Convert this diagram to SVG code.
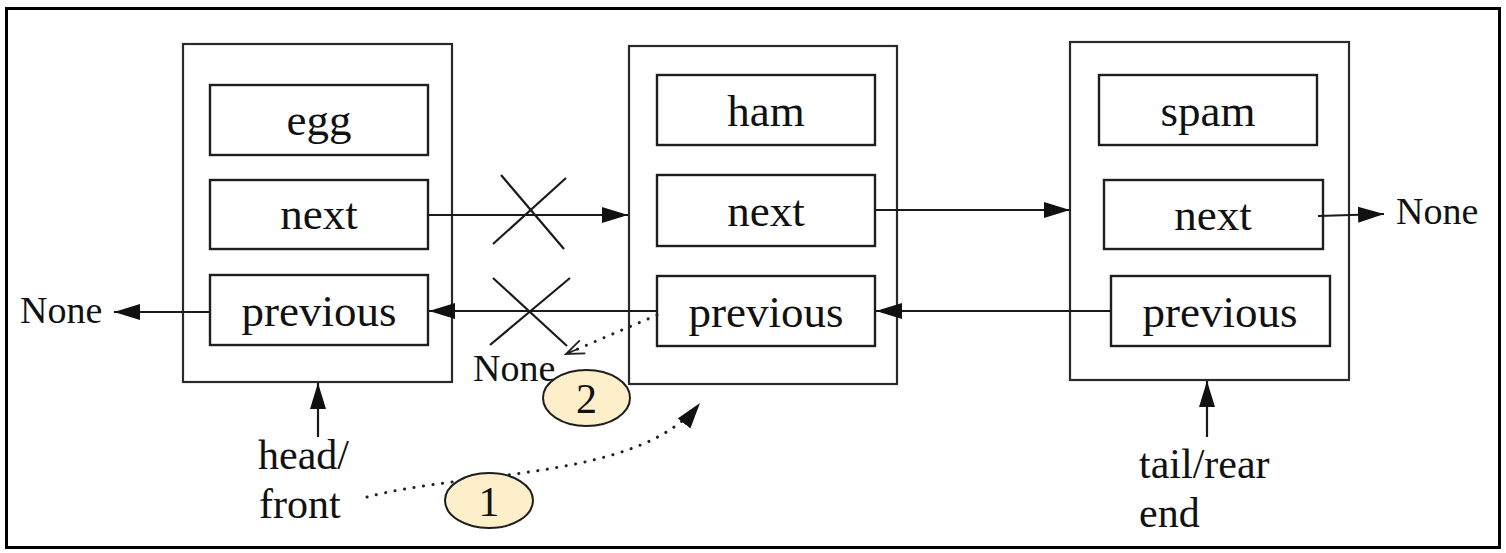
<svg xmlns="http://www.w3.org/2000/svg" width="1506" height="553" viewBox="0 0 1506 553">
<style>
.box{fill:#fff;stroke:#2a2a2a;stroke-width:2.2}
.fld{fill:#fff;stroke:#1e1e1e;stroke-width:2.4}
.t{font-family:"Liberation Serif","Times New Roman",serif;fill:#111}
.ft{font-size:45px;text-anchor:middle}
.lb{font-size:42px}
.nn{font-size:38px}
.ln{fill:none;stroke:#1a1a1a;stroke-width:2.2}
.dot{fill:none;stroke:#222;stroke-width:3;stroke-linecap:round;stroke-dasharray:0.1 9.5}
.xm{stroke:#1a1a1a;stroke-width:2.2}
.ov{fill:#fcefc9;stroke:#1e1e1e;stroke-width:2}
</style>
<defs>
<marker id="ah" markerUnits="userSpaceOnUse" markerWidth="28" markerHeight="20" refX="26" refY="9" orient="auto">
<path d="M0,1 L26,9 L0,17 Z" fill="#111"/>
</marker>
<marker id="oa" markerUnits="userSpaceOnUse" markerWidth="24" markerHeight="18" refX="20" refY="9" orient="auto">
<path d="M2,2 L20,9 L2,16 M8,9 L20,9" fill="none" stroke="#222" stroke-width="1.8"/>
</marker>
</defs>
<rect x="6.5" y="8.5" width="1493" height="539" fill="#fff" stroke="#000" stroke-width="3"/>

<g id="node-egg">
<rect class="box" x="183" y="44" width="269" height="338"/>
<rect class="fld" x="210" y="85" width="218" height="70"/>
<text class="t ft" x="319" y="135">egg</text>
<rect class="fld" x="210" y="180" width="218" height="69"/>
<text class="t ft" x="319" y="229">next</text>
<rect class="fld" x="210" y="275" width="218" height="70"/>
<text class="t ft" x="319" y="326">previous</text>
</g>

<g id="node-ham">
<rect class="box" x="629" y="46" width="268" height="338"/>
<rect class="fld" x="657" y="75" width="218" height="70"/>
<text class="t ft" x="766" y="126">ham</text>
<rect class="fld" x="657" y="175" width="218" height="71"/>
<text class="t ft" x="766" y="226">next</text>
<rect class="fld" x="657" y="276" width="218" height="70"/>
<text class="t ft" x="766" y="327">previous</text>
</g>

<g id="node-spam">
<rect class="box" x="1070" y="42" width="279" height="338"/>
<rect class="fld" x="1099" y="75" width="218" height="70"/>
<text class="t ft" x="1208" y="126">spam</text>
<rect class="fld" x="1104" y="180" width="219" height="69"/>
<text class="t ft" x="1213" y="230">next</text>
<rect class="fld" x="1111" y="276" width="219" height="70"/>
<text class="t ft" x="1220" y="327">previous</text>
</g>

<g id="labels">
<text class="t nn" x="20" y="323">None</text>
<text class="t nn" x="1396" y="224">None</text>
<text class="t nn" x="473" y="381">None</text>
<text class="t lb" x="258" y="469">head/</text>
<text class="t lb" x="259" y="518">front</text>
<text class="t lb" x="1139" y="478">tail/rear</text>
<text class="t lb" x="1139" y="527">end</text>
</g>

<g id="connectors">
<line class="ln" x1="428" y1="215" x2="628" y2="215" marker-end="url(#ah)"/>
<line class="ln" x1="875" y1="210" x2="1070" y2="210" marker-end="url(#ah)"/>
<line class="ln" x1="1318" y1="216" x2="1384" y2="214" marker-end="url(#ah)"/>
<line class="ln" x1="1111" y1="311" x2="876" y2="311" marker-end="url(#ah)"/>
<line class="ln" x1="657" y1="311" x2="429" y2="311" marker-end="url(#ah)"/>
<line class="ln" x1="210" y1="312" x2="114" y2="312" marker-end="url(#ah)"/>
<line class="ln" x1="318" y1="437" x2="318" y2="383" marker-end="url(#ah)"/>
<line class="ln" x1="1207" y1="437" x2="1207" y2="381" marker-end="url(#ah)"/>
<path class="dot" d="M657,315 L566,354" marker-end="url(#oa)"/>
<path class="dot" d="M367,497 C470,470 640,480 700,403" marker-end="url(#ah)"/>
<line class="xm" x1="501" y1="175" x2="564" y2="249"/>
<line class="xm" x1="566" y1="178" x2="493" y2="244"/>
<line class="xm" x1="493" y1="278" x2="567" y2="346"/>
<line class="xm" x1="570" y1="278" x2="490" y2="345"/>
</g>

<g id="step-2">
<ellipse class="ov" cx="586.5" cy="398" rx="43.5" ry="28"/>
<text class="t lb" x="586.5" y="413" text-anchor="middle">2</text>
</g>
<g id="step-1">
<ellipse class="ov" cx="489" cy="500.5" rx="44" ry="27.5"/>
<text class="t lb" x="489" y="516" text-anchor="middle">1</text>
</g>
</svg>
